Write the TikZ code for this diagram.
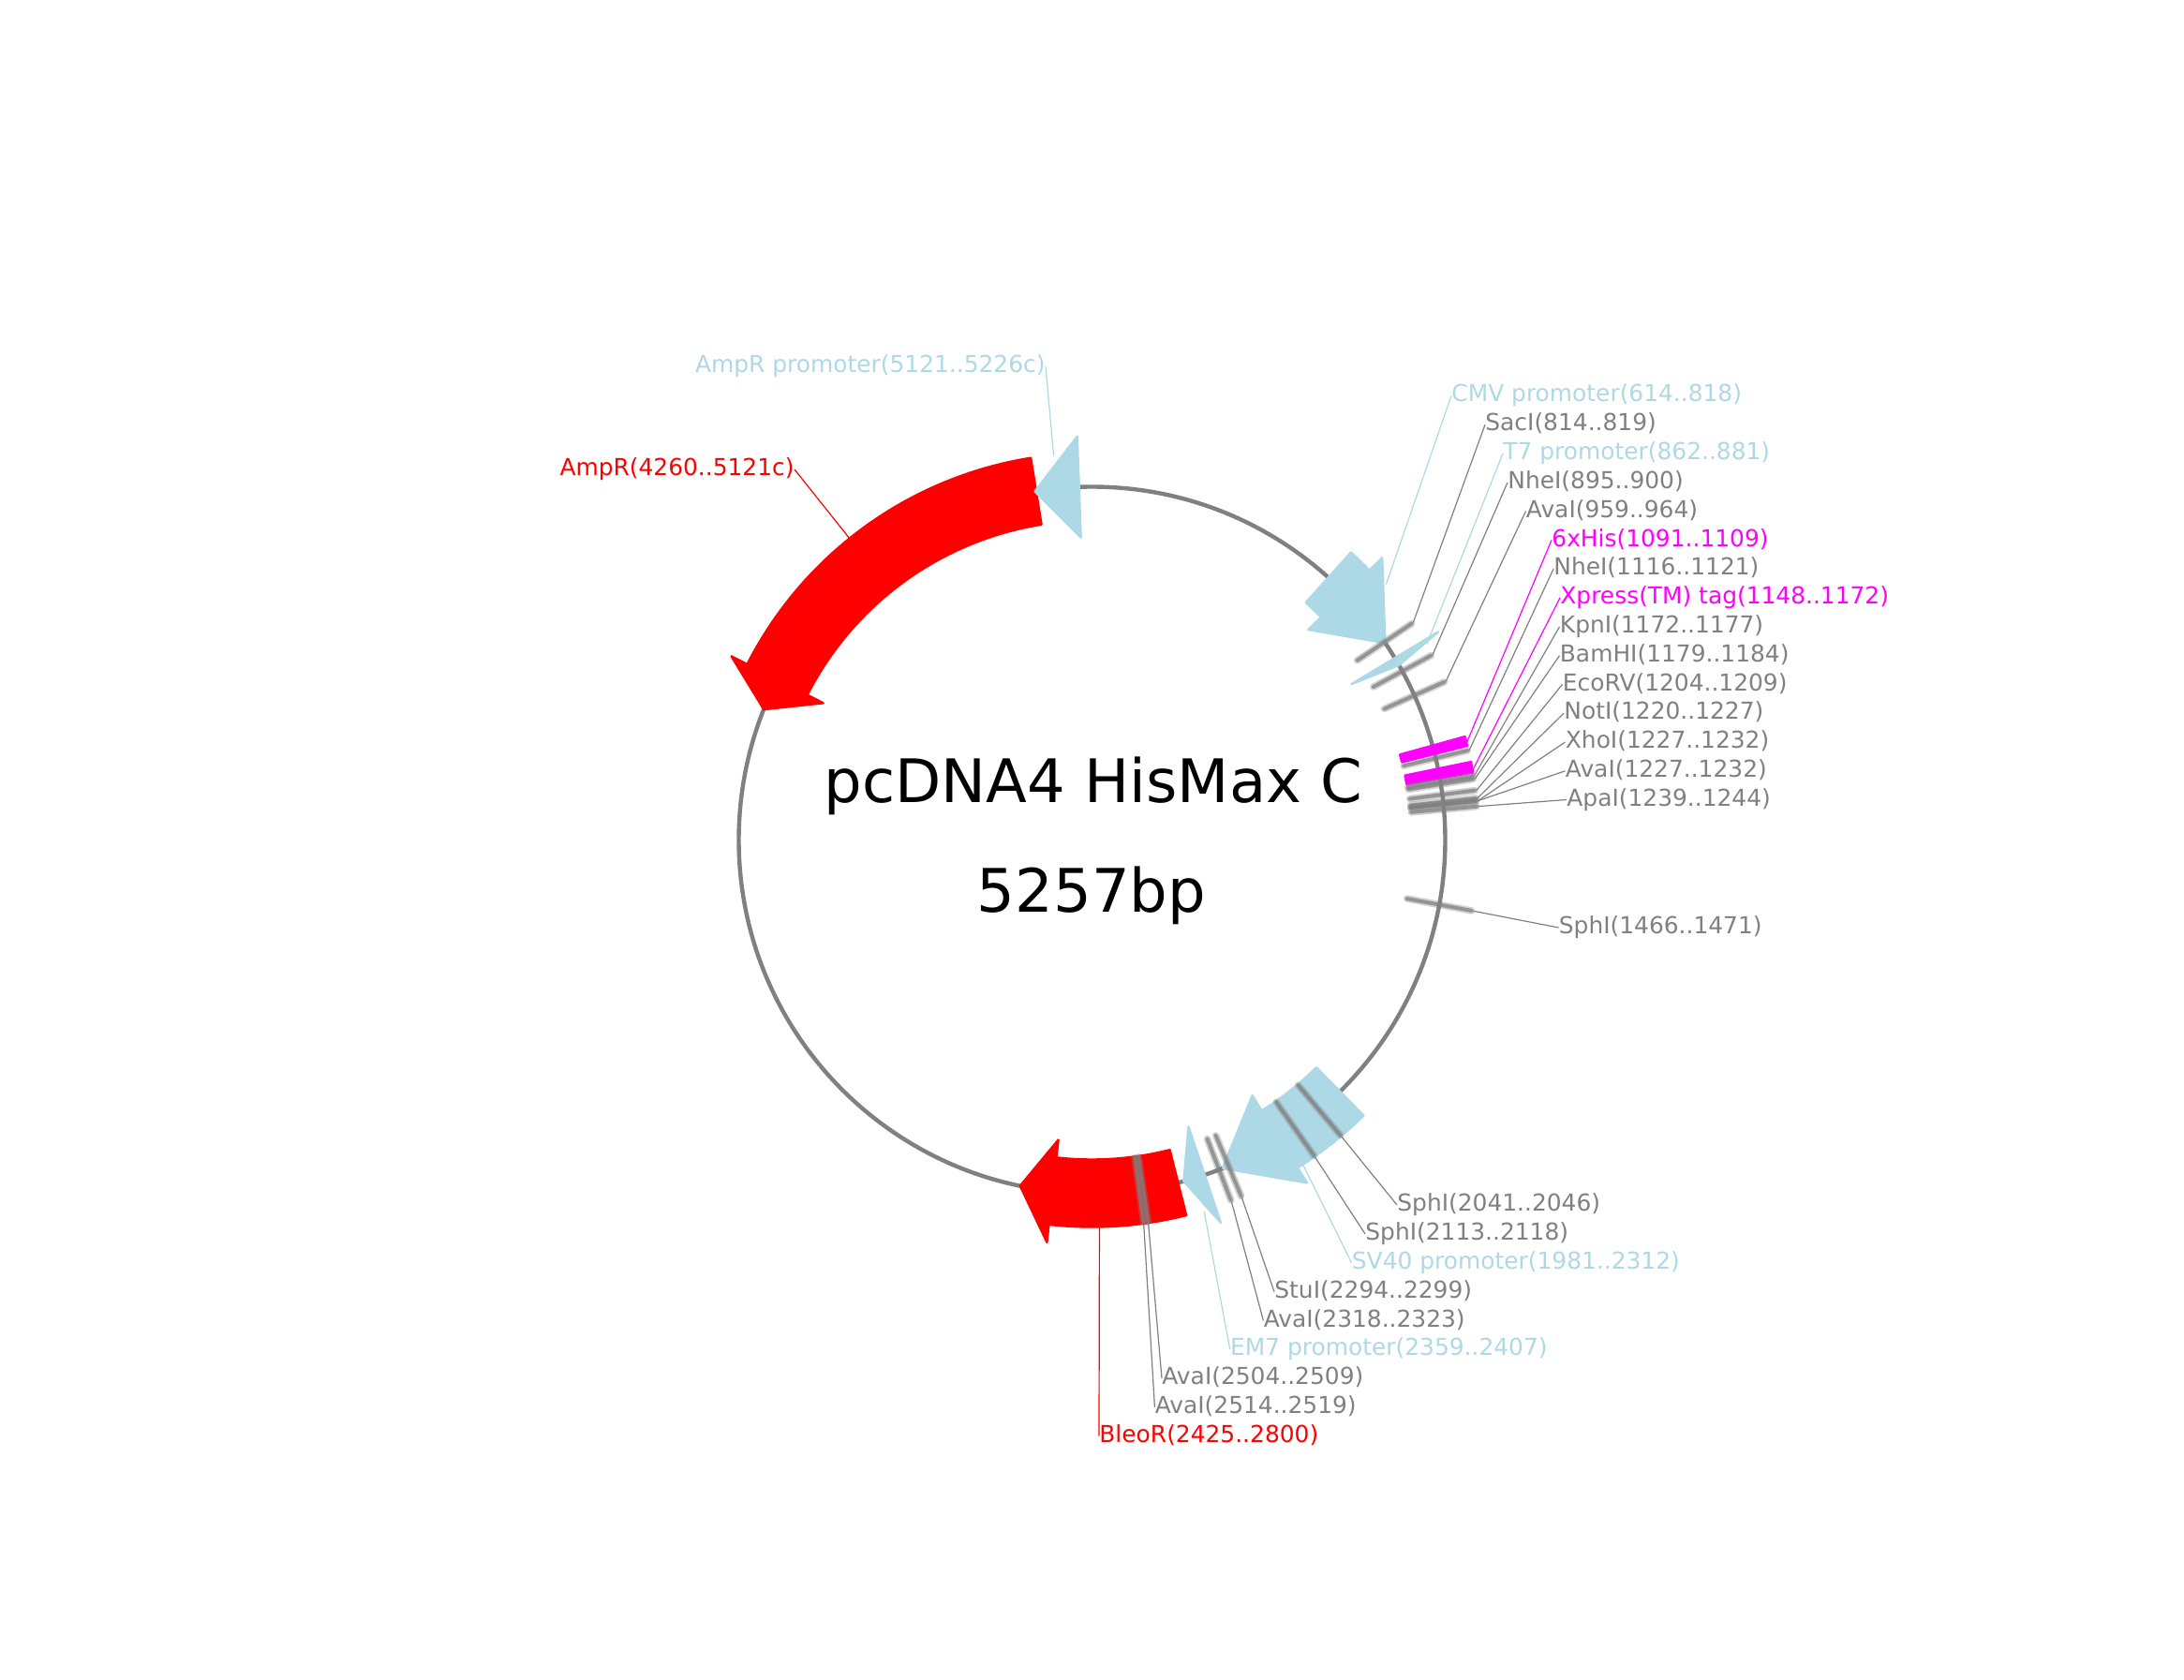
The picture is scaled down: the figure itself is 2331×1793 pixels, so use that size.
\documentclass[tikz,border=0pt]{standalone}
\usepackage{fontspec}
\setmainfont{DejaVu Sans}
\definecolor{fblue}{HTML}{ADD8E6}
\definecolor{fgray}{HTML}{808080}
\definecolor{fmag}{RGB}{255,0,255}
\definecolor{fred}{RGB}{255,0,0}
\tikzset{
  lab/.style={inner sep=0pt,font=\fontsize{12.45}{15}\selectfont,text height=9.2pt,text depth=2.6pt},
  labgray/.style={lab,anchor=west,text=fgray},
  labblue/.style={lab,anchor=west,text=fblue},
  labmag/.style={lab,anchor=west,text=fmag},
  labred/.style={lab,anchor=west,text=fred},
  leadgray/.style={draw=fgray,line width=0.6pt},
  leadblue/.style={draw=fblue,line width=0.6pt},
  leadmag/.style={draw=fmag,line width=0.6pt},
  leadred/.style={draw=fred,line width=0.6pt},
  ringline/.style={draw=fgray,line width=2.2pt},
  feat/.style={fill=#1,draw=#1,line width=1.2pt,line join=round},
  title/.style={inner sep=0pt,font=\fontsize{32}{38}\selectfont,text=black},
}
% arrow feature: clock angles for tail, neck, tip
\newcommand{\FeatArrow}[4]{%
  \path[feat=#1] ({90-#2}:413) arc[start angle={90-#2},end angle={90-#3},radius=413]
    -- ({90-#3}:432) -- ({90-#4}:377) -- ({90-#3}:322) -- ({90-#3}:341)
    arc[start angle={90-#3},end angle={90-#2},radius=341] -- cycle;}
% head-only feature
\newcommand{\FeatHead}[3]{%
  \path[feat=#1] ({90-#2}:431) -- ({90-#3}:377) -- ({90-#2}:323) -- cycle;}
% box feature
\newcommand{\FeatBox}[3]{%
  \path[feat=#1] ({90-#2}:413) arc[start angle={90-#2},end angle={90-#3},radius=413]
    -- ({90-#3}:341) arc[start angle={90-#3},end angle={90-#2},radius=341] -- cycle;}
% restriction site tick
\newcommand{\SiteTick}[1]{%
  \draw[fgray,opacity=.35,line width=3.8pt,line cap=round] ({90-#1}:342) -- ({90-#1}:412);
  \draw[fgray,opacity=.75,line width=2pt,line cap=round] ({90-#1}:342) -- ({90-#1}:412);}
\begin{document}
\begin{tikzpicture}[x=0.5pt,y=0.5pt]
\useasboundingbox (0,0) rectangle (2331,-1793);
% labels
\begin{scope}[shift={(1,-3)}]
\node[lab,anchor=east,text=fblue] (lampp) at (1115,-388) {AmpR promoter(5121..5226c)};
\node[lab,anchor=east,text=fred] (lamp) at (847,-498) {AmpR(4260..5121c)};
\node[labblue] (lcmv) at (1548,-419.3) {CMV promoter(614..818)};
\node[labgray] (lsac) at (1584,-450.2) {SacI(814..819)};
\node[labblue] (lt7) at (1603,-481) {T7 promoter(862..881)};
\node[labgray] (lnhe) at (1608,-511.9) {NheI(895..900)};
\node[labgray] (lava) at (1627.5,-542.5) {AvaI(959..964)};
\node[labmag] (lhis) at (1655,-573.4) {6xHis(1091..1109)};
\node[labgray] (lnheb) at (1657,-604.2) {NheI(1116..1121)};
\node[labmag] (lxpr) at (1664,-635) {Xpress(TM) tag(1148..1172)};
\node[labgray] (lkpn) at (1663.5,-665.8) {KpnI(1172..1177)};
\node[labgray] (lbam) at (1663.5,-696.6) {BamHI(1179..1184)};
\node[labgray] (leco) at (1666.5,-727.4) {EcoRV(1204..1209)};
\node[labgray] (lnot) at (1668,-758.2) {NotI(1220..1227)};
\node[labgray] (lxho) at (1669.5,-789) {XhoI(1227..1232)};
\node[labgray] (lavb) at (1669.5,-819.8) {AvaI(1227..1232)};
\node[labgray] (lapa) at (1671,-850.5) {ApaI(1239..1244)};
\node[labgray] (lsph) at (1662.5,-987) {SphI(1466..1471)};
\node[labgray] (lspb) at (1490,-1283) {SphI(2041..2046)};
\node[labgray] (lspc) at (1456,-1313.9) {SphI(2113..2118)};
\node[labblue] (lsv) at (1441.5,-1344.7) {SV40 promoter(1981..2312)};
\node[labgray] (lstu) at (1359,-1375.6) {StuI(2294..2299)};
\node[labgray] (lavc) at (1347.4,-1406.5) {AvaI(2318..2323)};
\node[labblue] (lem) at (1311.7,-1437) {EM7 promoter(2359..2407)};
\node[labgray] (lavd) at (1239,-1468) {AvaI(2504..2509)};
\node[labgray] (lave) at (1231.4,-1498.8) {AvaI(2514..2519)};
\node[labred] (lble) at (1172,-1529.6) {BleoR(2425..2800)};
\end{scope}
\node[title] (tname) at (1167,-839) {pcDNA4 HisMax C};
\node[title] (tsize) at (1165,-955.5) {5257bp};
\begin{scope}[shift={(1165.5,-896.5)}]
% anchors of the leaders
\coordinate (pampp) at ({90+5.7}:412);
\coordinate (pamp) at ({90+38.8}:414);
\coordinate (pcmv) at ({90-49}:416);
\coordinate (psac) at ({90-55.9}:414);
\coordinate (pt7) at ({90-59.68}:414);
\coordinate (pnhe) at ({90-61.45}:414);
\coordinate (pava) at ({90-65.84}:414);
\coordinate (phis) at ({90-75.3}:414);
\coordinate (pnheb) at ({90-76.6}:414);
\coordinate (pxpr) at ({90-79.44}:414);
\coordinate (pkpn) at ({90-80.43}:414);
\coordinate (pbam) at ({90-80.91}:414);
\coordinate (peco) at ({90-82.62}:414);
\coordinate (pnot) at ({90-83.79}:414);
\coordinate (pxho) at ({90-84.2}:414);
\coordinate (pavb) at ({90-84.2}:414);
\coordinate (papa) at ({90-85.02}:414);
\coordinate (psph) at ({90-100.55}:414);
\coordinate (pspb) at ({90-139.93}:414);
\coordinate (pspc) at ({90-144.88}:414);
\coordinate (psv) at ({90-146.99}:414);
\coordinate (pstu) at ({90-157.27}:414);
\coordinate (pavc) at ({90-158.91}:414);
\coordinate (pem) at ({90-163.2}:414);
\coordinate (pavd) at ({90-171.64}:414);
\coordinate (pave) at ({90-172.33}:414);
\coordinate (pble) at ({90-178.9}:414);
\end{scope}
% leaders
\draw[leadblue] (pampp) -- (lampp.east);
\draw[leadred] (pamp) -- (lamp.east);
\draw[leadblue] (pcmv) -- (lcmv.west);
\draw[leadgray] (psac) -- (lsac.west);
\draw[leadblue] (pt7) -- (lt7.west);
\draw[leadgray] (pnhe) -- (lnhe.west);
\draw[leadgray] (pava) -- (lava.west);
\draw[leadmag] (phis) -- (lhis.west);
\draw[leadgray] (pnheb) -- (lnheb.west);
\draw[leadmag] (pxpr) -- (lxpr.west);
\draw[leadgray] (pkpn) -- (lkpn.west);
\draw[leadgray] (pbam) -- (lbam.west);
\draw[leadgray] (peco) -- (leco.west);
\draw[leadgray] (pnot) -- (lnot.west);
\draw[leadgray] (pxho) -- (lxho.west);
\draw[leadgray] (pavb) -- (lavb.west);
\draw[leadgray] (papa) -- (lapa.west);
\draw[leadgray] (psph) -- (lsph.west);
\draw[leadgray] (pspb) -- (lspb.west);
\draw[leadgray] (pspc) -- (lspc.west);
\draw[leadblue] (psv) -- (lsv.west);
\draw[leadgray] (pstu) -- (lstu.west);
\draw[leadgray] (pavc) -- (lavc.west);
\draw[leadblue] (pem) -- (lem.west);
\draw[leadgray] (pavd) -- (lavd.west);
\draw[leadgray] (pave) -- (lave.west);
\draw[leadred] (pble) -- (lble.west);
\begin{scope}[shift={(1165.5,-896.5)}]
% backbone
\draw[ringline] (0,0) circle[radius=377];
% features
\FeatArrow{fred}{-9.1}{-63}{-68.3}
\FeatHead{fblue}{-2.1}{-9.31}
\FeatArrow{fblue}{42}{45.8}{56.1}
\FeatHead{fblue}{59}{60.33}
\FeatBox{fmag}{74.5}{75.9}
\FeatBox{fmag}{78.35}{79.95}
\FeatArrow{fblue}{135.4}{147.9}{158.3}
\FeatHead{fblue}{161.4}{164.95}
\FeatArrow{fred}{165.9}{186.4}{191.74}
% restriction sites
\SiteTick{55.9}
\SiteTick{61.45}
\SiteTick{65.84}
\SiteTick{76.6}
\SiteTick{80.43}
\SiteTick{80.91}
\SiteTick{82.62}
\SiteTick{83.79}
\SiteTick{84.2}
\SiteTick{84.2}
\SiteTick{85.02}
\SiteTick{100.55}
\SiteTick{139.93}
\SiteTick{144.88}
\SiteTick{157.27}
\SiteTick{158.91}
\SiteTick{171.64}
\SiteTick{172.33}
\end{scope}
\end{tikzpicture}
\end{document}
